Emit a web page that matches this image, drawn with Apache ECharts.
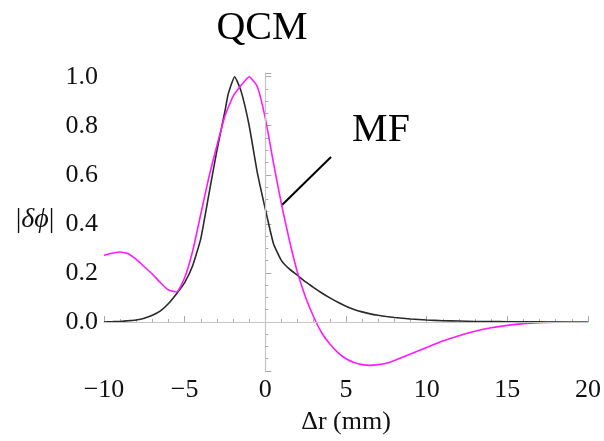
<!DOCTYPE html>
<html>
<head>
<meta charset="utf-8">
<script src="https://cdn.jsdelivr.net/npm/echarts@6/dist/echarts.min.js"></script>
<style>
  html, body { margin: 0; padding: 0; background: #fff; }
  #chart { width: 604px; height: 441px; }
</style>
</head>
<body>
<div id="chart"></div>
<script>
// QCM curve (black)
const qcmX = [-10, -9.5, -9, -8.5, -8, -7.5, -7, -6.5, -6, -5.5, -5, -4.5, -4, -3.5, -3, -2.5, -2.3, -1.9, -1.5, -1, -0.5, 0, 0.5, 1, 1.5, 2, 2.5, 3, 3.5, 4, 4.5, 5, 5.5, 6, 6.5, 7, 7.5, 8, 9, 10, 11, 12, 13, 14, 15, 17, 20]
const qcmY = [0, 0.001, 0.002, 0.005, 0.008, 0.015, 0.027, 0.045, 0.075, 0.115, 0.16, 0.23, 0.34, 0.52, 0.7, 0.86, 0.93, 1.0, 0.94, 0.8, 0.61, 0.46, 0.32, 0.25, 0.215, 0.19, 0.163, 0.14, 0.118, 0.098, 0.08, 0.064, 0.051, 0.041, 0.033, 0.027, 0.022, 0.018, 0.012, 0.008, 0.005, 0.004, 0.002, 0.0015, 0.001, 0.0005, 0]

// MF curve (magenta)
const mfX = [-10, -9.5, -9, -8.5, -8, -7.5, -7, -6.5, -6, -5.5, -5, -4.5, -4, -3.5, -3, -2.5, -2, -1.5, -1, -0.5, 0, 0.5, 1, 1.5, 2, 2.5, 3, 3.5, 4, 4.5, 5, 5.5, 6, 6.5, 7, 7.5, 8, 9, 10, 11, 12, 13, 14, 15, 16, 17, 18, 19, 20]
const mfY = [0.272, 0.28, 0.285, 0.278, 0.255, 0.225, 0.195, 0.16, 0.13, 0.122, 0.18, 0.29, 0.44, 0.59, 0.72, 0.84, 0.92, 0.965, 1.0, 0.96, 0.83, 0.65, 0.48, 0.33, 0.2, 0.1, 0.02, -0.045, -0.09, -0.125, -0.15, -0.165, -0.174, -0.177, -0.174, -0.168, -0.157, -0.131, -0.104, -0.078, -0.056, -0.038, -0.024, -0.014, -0.007, -0.003, -0.001, 0, 0]

const xTicks = [-10, -5, 0, 5, 10, 15, 20]
const yTicks = [0, 0.2, 0.4, 0.6, 0.8, 1.0]

const serif = '"Liberation Serif", "DejaVu Serif", serif'
const axisGray = '#a8a8a8'

const chart = echarts.init(document.getElementById('chart'), null, { renderer: 'canvas' })

chart.setOption({
  backgroundColor: '#fff',
  animation: false,
  grid: { left: 104, right: 15, top: 73, bottom: 70 },
  xAxis: {
    type: 'value',
    min: -10,
    max: 20,
    interval: 5,
    name: 'Δr (mm)',
    nameLocation: 'middle',
    nameGap: 38,
    nameTextStyle: { fontFamily: serif, fontSize: 26, color: '#111' },
    axisLine: { show: true, lineStyle: { color: axisGray, width: 1 } },
    axisTick: { show: true, inside: true, length: 6, lineStyle: { color: axisGray } },
    minorTick: { show: true, splitNumber: 5, length: 3, lineStyle: { color: axisGray } },
    splitLine: { show: false },
    axisLabel: {
      fontFamily: serif, fontSize: 26, color: '#111', margin: 6,
      formatter: v => xTicks.includes(v) ? (v < 0 ? '−' + Math.abs(v) : String(v)) : ''
    }
  },
  yAxis: {
    type: 'value',
    min: -0.2,
    max: 1.015,
    interval: 0.2,
    axisLine: { show: true, lineStyle: { color: axisGray, width: 1 } },
    axisTick: { show: true, inside: true, length: 6, lineStyle: { color: axisGray } },
    minorTick: { show: true, splitNumber: 4, length: 3, lineStyle: { color: axisGray } },
    splitLine: { show: false },
    axisLabel: {
      fontFamily: serif, fontSize: 26, color: '#111', margin: 6,
      showMaxLabel: false,
      formatter: v => yTicks.some(t => Math.abs(t - v) < 1e-6) ? v.toFixed(1) : ''
    }
  },
  series: [
    {
      type: 'line',
      data: [],
      silent: true,
      markLine: {
        silent: true,
        symbol: 'none',
        label: { show: false },
        lineStyle: { color: '#c4c4c4', width: 1.2, type: 'solid' },
        data: [{ xAxis: 0 }, { yAxis: 0 }]
      }
    },
    {
      name: 'QCM',
      type: 'line',
      data: qcmX.map((x, i) => [x, qcmY[i]]),
      showSymbol: false,
      smooth: 0.15,
      lineStyle: { color: '#2a2a2a', width: 1.6 }
    },
    {
      name: 'MF',
      type: 'line',
      data: mfX.map((x, i) => [x, mfY[i]]),
      showSymbol: false,
      smooth: 0.15,
      lineStyle: { color: '#ff1aff', width: 1.6 }
    }
  ],
  graphic: [
    {
      type: 'text', x: 262, y: 28,
      style: { text: 'QCM', fontFamily: serif, fontSize: 40, fill: '#000', align: 'center', verticalAlign: 'middle' }
    },
    {
      type: 'text', x: 381, y: 130,
      style: { text: 'MF', fontFamily: serif, fontSize: 40, fill: '#000', align: 'center', verticalAlign: 'middle' }
    },
    {
      type: 'line',
      shape: { x1: 282, y1: 205, x2: 331, y2: 157 },
      style: { stroke: '#000', lineWidth: 2 }
    },
    {
      type: 'text', x: 35, y: 220,
      style: {
        text: '{u||}{i|δϕ}{u||}',
        align: 'center', verticalAlign: 'middle',
        rich: {
          u: { fontFamily: serif, fontSize: 28, fill: '#111' },
          i: { fontFamily: serif, fontSize: 28, fontStyle: 'italic', fill: '#111' }
        }
      }
    }
  ]
})
</script>
</body>
</html>
